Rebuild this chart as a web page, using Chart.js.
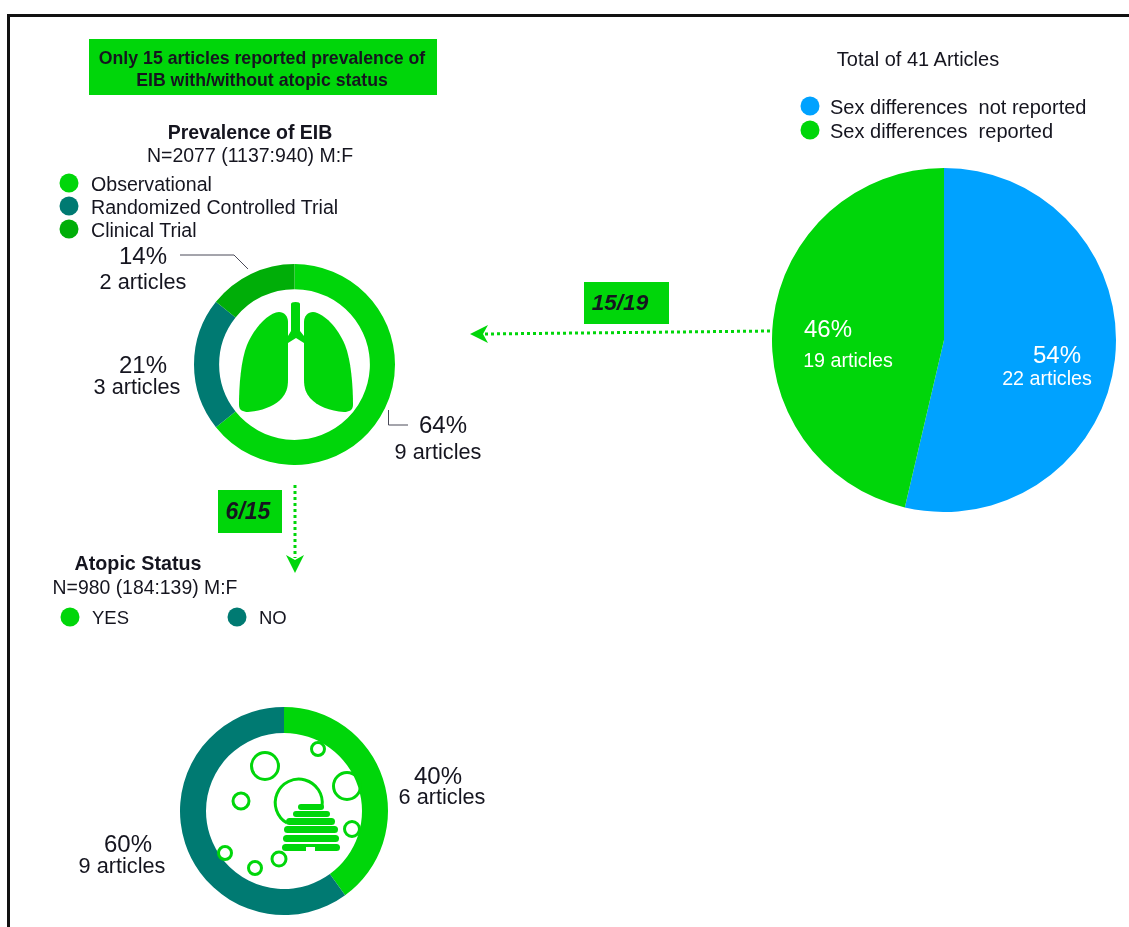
<!DOCTYPE html>
<html>
<head>
<meta charset="utf-8">
<title>Sex differences in EIB articles</title>
<script src="https://cdn.jsdelivr.net/npm/chart.js@4"></script>
<style>
    html, body { margin: 0; padding: 0; background: #fff; }
    body { width: 1129px; height: 927px; position: relative; overflow: hidden; font-family: "Liberation Sans", Arial, sans-serif; color: #15151f; }
    #frame { position: absolute; left: 7px; top: 14px; width: 1122px; height: 913px; border-top: 3px solid #111; border-left: 3px solid #111; box-sizing: border-box; }
    canvas { position: absolute; }
    svg { position: absolute; left: 0; top: 0; }
    .box { position: absolute; background: #00d60a; }
    .dot { position: absolute; border-radius: 50%; transform: translate(-50%, -50%); }
    .txt { position: absolute; white-space: pre; line-height: 0.7; }
</style>
</head>
<body>
<div id="frame"></div>
<div class="box" style="left:89px;top:39px;width:348px;height:56px"></div>
<div class="box" style="left:584px;top:282px;width:85px;height:42px"></div>
<div class="box" style="left:218px;top:490px;width:64px;height:43px"></div>

<canvas id="sexChart" width="344" height="344" style="left:772px;top:168px"></canvas>
<canvas id="designChart" width="201" height="201" style="left:194px;top:264px"></canvas>
<canvas id="atopicChart" width="208" height="208" style="left:180px;top:707px"></canvas>

<svg width="1129" height="927" fill="none">
    <!-- leader lines -->
    <polyline points="180,255 234,255 248,269" stroke="#4a4a58" stroke-width="1"/>
    <polyline points="388.5,410 388.5,425 408,425" stroke="#4a4a58" stroke-width="1"/>
    <!-- dotted arrows -->
    <line x1="770" y1="331" x2="484" y2="334" stroke="#00d60a" stroke-width="3" stroke-dasharray="3 3"/>
    <polygon points="470,334 488,325 483,334 488,343" fill="#00d60a"/>
    <line x1="295" y1="485" x2="295" y2="558" stroke="#00d60a" stroke-width="3" stroke-dasharray="3 3"/>
    <polygon points="295,573 286,555 295,560 304,555" fill="#00d60a"/>
    <!-- lungs -->
    <g fill="#00d60a">
        <path d="M291,304 Q291,302 295.5,302 Q300,302 300,304 L300,331 L304,336 L304,343 L296,338 L288,343 L288,336 L291,331 Z"/>
        <path d="M288,322 C288,316 284,312 279,312 C268,313 254,328 247,345 C241,360 239,385 239,405 C239,410 243,412 248,412 C262,411 275,406 282,398 C286,393 288,388 288,380 Z"/>
        <path d="M304,322 C304,316 308,312 313,312 C324,313 338,328 345,345 C351,360 353,385 353,405 C353,410 349,412 344,412 C330,411 317,406 310,398 C306,393 304,388 304,380 Z"/>
    </g>
    <!-- pollen -->
    <g stroke="#00d60a" stroke-width="3">
        <circle cx="318" cy="749" r="6.5"/>
        <circle cx="265" cy="766" r="13.5"/>
        <circle cx="347" cy="786" r="13.5"/>
        <circle cx="241" cy="801" r="8"/>
        <circle cx="352" cy="829" r="7.5"/>
        <circle cx="225" cy="853" r="6.5"/>
        <circle cx="255" cy="868" r="6.5"/>
        <circle cx="279" cy="859" r="7"/>
        <path d="M287,823 A23.5,23.5 0 1 1 322,806"/>
    </g>
    <!-- beehive -->
    <g fill="#00d60a">
        <rect x="298" y="804" width="26" height="6" rx="3"/>
        <rect x="293" y="811" width="37" height="6" rx="3"/>
        <rect x="286" y="818" width="49" height="7" rx="3.5"/>
        <rect x="284" y="826" width="54" height="7" rx="3.5"/>
        <rect x="283" y="835" width="56" height="7" rx="3.5"/>
        <rect x="282" y="844" width="58" height="7" rx="3.5"/>
        <rect x="306" y="847" width="9" height="5" fill="#fff"/>
    </g>
</svg>

<script>
// values
const sexLabels = ['Sex differences  not reported', 'Sex differences  reported'];
const sexArticles = [22, 19];
const sexPercent = ['54%', '46%'];

const designLabels = ['Observational', 'Randomized Controlled Trial', 'Clinical Trial'];
const designArticles = [9, 3, 2];
const designPercent = ['64%', '21%', '14%'];

const atopicLabels = ['YES', 'NO'];
const atopicArticles = [6, 9];
const atopicPercent = ['40%', '60%'];

const GREEN = '#00d60a';
const TEAL = '#007a72';
const DARK_GREEN = '#00ae08';
const BLUE = '#00a2ff';

function ringChart(id, type, labels, values, colors) {
    new Chart(document.getElementById(id).getContext('2d'), {
        type: type,
        data: {
            labels: labels,
            datasets: [{
                data: values,
                backgroundColor: colors,
                borderWidth: 0
            }]
        },
        options: {
            responsive: false,
            animation: false,
            cutout: type === 'doughnut' ? '75%' : 0,
            plugins: {
                legend: { display: false },
                tooltip: { enabled: false }
            }
        }
    });
}

ringChart('sexChart', 'pie', sexLabels, sexArticles, [BLUE, GREEN]);
ringChart('designChart', 'doughnut', designLabels, designArticles, [GREEN, TEAL, DARK_GREEN]);
ringChart('atopicChart', 'doughnut', atopicLabels, atopicArticles, [GREEN, TEAL]);

// text helper: x,y is the middle of the text, or its left edge with left=true
function text(str, x, y, size, opts) {
    opts = opts || {};
    const el = document.createElement('div');
    el.className = 'txt';
    el.textContent = str;
    el.style.left = x + 'px';
    el.style.top = y + 'px';
    el.style.fontSize = size + 'px';
    el.style.transform = opts.left ? 'translateY(-50%)' : 'translate(-50%, -50%)';
    if (opts.bold) el.style.fontWeight = 'bold';
    if (opts.italic) el.style.fontStyle = 'italic';
    if (opts.color) el.style.color = opts.color;
    document.body.appendChild(el);
}

function dot(x, y, color) {
    const el = document.createElement('div');
    el.className = 'dot';
    el.style.left = x + 'px';
    el.style.top = y + 'px';
    el.style.width = '19px';
    el.style.height = '19px';
    el.style.background = color;
    document.body.appendChild(el);
}

text('Only 15 articles reported prevalence of', 262, 58, 17.7, { bold: true });
text('EIB with/without atopic status', 262, 80, 17.7, { bold: true });
text('15/19', 620, 303, 22.5, { bold: true, italic: true });
text('6/15', 248, 511, 23, { bold: true, italic: true });

// right pie
text('Total of 41 Articles', 918, 59, 20);
dot(810, 106, BLUE);
dot(810, 130, GREEN);
text(sexLabels[0], 830, 107, 20, { left: true });
text(sexLabels[1], 830, 131, 20, { left: true });
text(sexPercent[1], 828, 329, 24, { color: '#fff' });
text(sexArticles[1] + ' articles', 848, 361, 19.7, { color: '#fff' });
text(sexPercent[0], 1057, 355, 24, { color: '#fff' });
text(sexArticles[0] + ' articles', 1047, 379, 19.7, { color: '#fff' });

// study design donut
text('Prevalence of EIB', 250, 133, 19.5, { bold: true });
text('N=2077 (1137:940) M:F', 250, 156, 19.5);
[GREEN, TEAL, DARK_GREEN].forEach(function(c, i) {
    dot(69, 183 + i * 23, c);
    text(designLabels[i], 91, 185 + i * 23, 19.6, { left: true });
});
text(designPercent[2], 143, 256, 24);
text(designArticles[2] + ' articles', 143, 282, 21.7);
text(designPercent[1], 143, 365, 24);
text(designArticles[1] + ' articles', 137, 387, 21.7);
text(designPercent[0], 443, 425, 24);
text(designArticles[0] + ' articles', 438, 452, 21.7);

// atopic status donut
text('Atopic Status', 138, 564, 19.7, { bold: true });
text('N=980 (184:139) M:F', 145, 588, 19.4);
dot(70, 617, GREEN);
text(atopicLabels[0], 92, 618, 18.5, { left: true });
dot(237, 617, TEAL);
text(atopicLabels[1], 259, 618, 18.5, { left: true });
text(atopicPercent[0], 438, 776, 24);
text(atopicArticles[0] + ' articles', 442, 797, 21.7);
text(atopicPercent[1], 128, 844, 24);
text(atopicArticles[1] + ' articles', 122, 866, 21.7);
</script>
</body>
</html>
